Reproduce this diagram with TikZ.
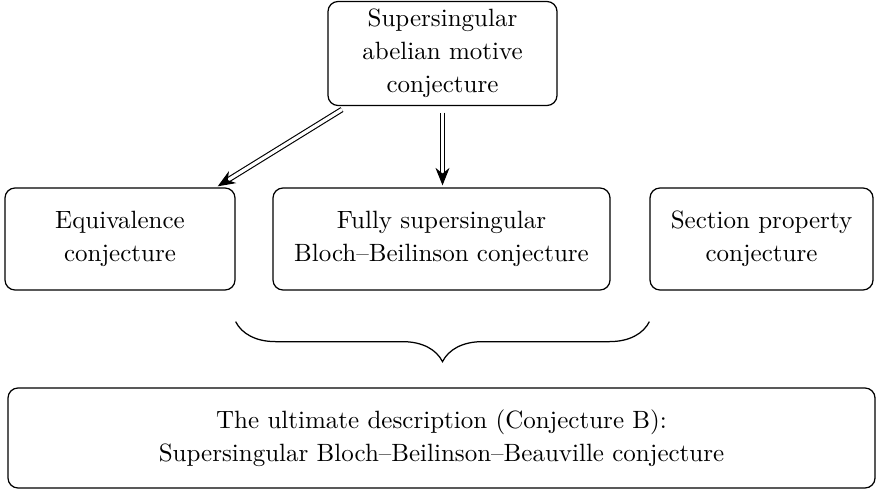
\documentclass[tikz,border=0pt]{standalone}
\usetikzlibrary{arrows.meta,decorations.pathreplacing,calc}
\begin{document}
\begin{tikzpicture}[x=0.4pt,y=-0.4pt,
  box/.style={draw, rounded corners=4pt, align=center, inner sep=0pt, line width=0.5pt, font=\fontsize{10}{13.2}\selectfont},
  dbl/.style={double, double distance=1.3pt, line width=0.45pt, -{Stealth[length=7pt,width=5.6pt]}}]
\useasboundingbox (0,0) rectangle (877,492);
\node[box, minimum width=91.6pt, minimum height=41.6pt] (top) at (442.5,53.5) {Supersingular\\abelian motive\\conjecture};
\node[box, minimum width=92pt, minimum height=40.8pt] (eq) at (120,239) {Equivalence\\conjecture};
\node[box, minimum width=134.8pt, minimum height=40.8pt] (fully) at (441.5,239) {Fully supersingular\\Bloch--Beilinson conjecture};
\node[box, minimum width=89.2pt, minimum height=40.8pt] (sec) at (761.5,239) {Section property\\conjecture};
\node[box, minimum width=346.8pt, minimum height=40pt] (bot) at (441.5,438) {The ultimate description (Conjecture B):\\Supersingular Bloch--Beilinson--Beauville conjecture};
\draw[dbl, shorten <=2.6pt, shorten >=0.8pt] ([xshift=-38pt]top.south) -- ([xshift=38.4pt]eq.north);
\draw[dbl, shorten <=2.6pt, shorten >=0.8pt] (top.south) -- (top.south |- fully.north);
\draw[decorate, decoration={brace, mirror, amplitude=16pt}, line width=0.5pt] ([yshift=-12.4pt]eq.south east) -- ([yshift=-12.4pt]sec.south west);
\end{tikzpicture}
\end{document}
